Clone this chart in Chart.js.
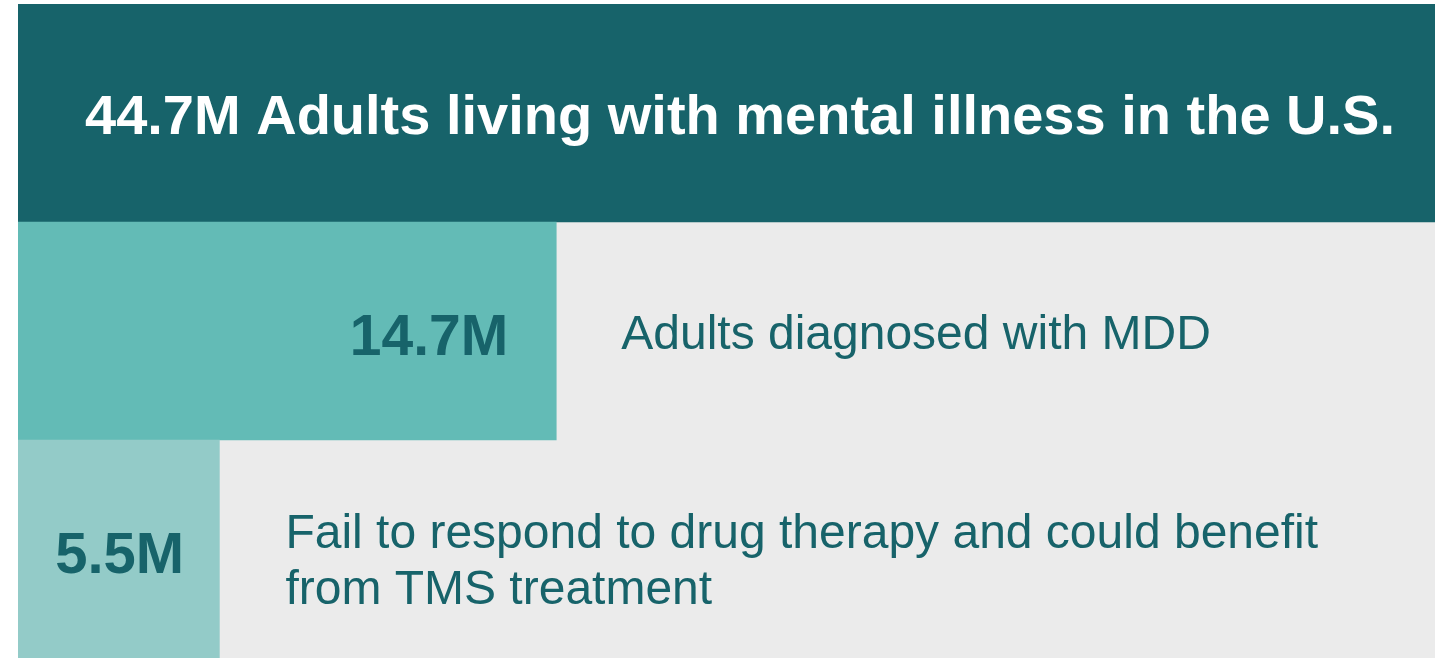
<!DOCTYPE html>
<html>
<head>
<meta charset="utf-8">
<script src="https://cdn.jsdelivr.net/npm/chart.js@4/dist/chart.umd.min.js"></script>
<style>
  html, body { margin:0; padding:0; background:#fff; }
  canvas { display:block; }
</style>
</head>
<body>
<canvas id="funnel" width="1440" height="658"></canvas>
<script>
// ====== data ======
const categories = ['All adults', 'MDD', 'Drug-resistant'];
const valueLabels = ['44.7M', '14.7M', '5.5M'];
const values = [44.7, 14.7, 5.5];          // millions of adults
const descriptions = [
  'Adults living with mental illness in the U.S.',
  'Adults diagnosed with MDD',
  'Fail to respond to drug therapy and could benefit|from TMS treatment'
];
const axisMax = 38.7; // top bar runs past the edge

// ====== styles ======
const barColors = ['#17636A', '#63BBB6', '#93CBC8'];
const restColor = '#EBEBEB';
const inkColor = '#17636A';
const FONT = 'Arial, "Liberation Sans", Helvetica, sans-serif';

const remainder = values.map((v, i) => i === 0 ? 0 : Math.max(axisMax - v, 0));

// labels drawn on top of the bars
const labelPlugin = {
  id: 'labels',
  afterDatasetsDraw(chart){
    const ctx = chart.ctx;
    const area = chart.chartArea;
    const bars = chart.getDatasetMeta(0).data;
    ctx.save();
    ctx.textBaseline = 'alphabetic';
    bars.forEach((bar, i) => {
      const y = bar.y;
      const end = Math.min(bar.x, area.right);
      if(i === 0){
        ctx.fillStyle = '#fff';
        ctx.font = 'bold 56px ' + FONT;
        ctx.textAlign = 'left';
        ctx.fillText(valueLabels[i] + ' ' + descriptions[i], area.left + 67, y + 21);
        return;
      }
      ctx.fillStyle = inkColor;
      if(i === 1){
        ctx.font = 'bold 57px ' + FONT;
        ctx.textAlign = 'right';
        ctx.fillText(valueLabels[i], end - 48, y + 24);
      } else {
        ctx.font = 'bold 58px ' + FONT;
        ctx.textAlign = 'center';
        ctx.fillText(valueLabels[i], (area.left + end) / 2 + 1, y + 24);
      }
      ctx.font = '48px ' + FONT;
      ctx.textAlign = 'left';
      const lines = descriptions[i].split('|');
      if(lines.length === 1){
        ctx.fillText(lines[0], end + 65, y + 18);
      } else {
        lines.forEach((ln, k) => ctx.fillText(ln, end + 66, y - 1 + k * 56));
      }
    });
    ctx.restore();
  }
};

new Chart(document.getElementById('funnel'), {
  type: 'bar',
  data: {
    labels: categories,
    datasets: [
      { data: values, backgroundColor: barColors, borderWidth: 0,
        barPercentage: 1, categoryPercentage: 1 },
      { data: remainder, backgroundColor: restColor, borderWidth: 0,
        barPercentage: 1, categoryPercentage: 1 }
    ]
  },
  options: {
    indexAxis: 'y',
    responsive: false,
    animation: false,
    layout: { padding: { left: 18, top: 4, right: 5, bottom: 0 } },
    plugins: { legend: { display: false }, tooltip: { enabled: false } },
    scales: {
      x: { stacked: true, min: 0, max: axisMax, display: false },
      y: { stacked: true, display: false }
    }
  },
  plugins: [labelPlugin]
});
</script>
</body>
</html>
